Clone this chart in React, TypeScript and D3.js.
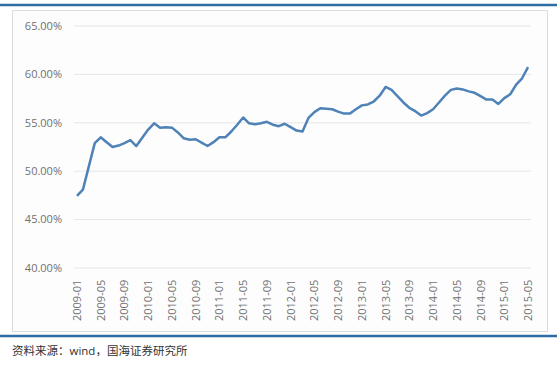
import React from "react";
import * as d3 from "d3";

const startYear = 2009;
const monthCount = 77;
const months: string[] = Array.from({ length: monthCount }, (_, i) => {
  const y = startYear + Math.floor(i / 12);
  const m = (i % 12) + 1;
  return `${y}-${m < 10 ? "0" + m : m}`;
});

const ratio: number[] = [
  47.45, 48.1, 50.5, 52.9, 53.5, 53.0, 52.5, 52.65, 52.9, 53.2, 52.6, 53.45,
  54.3, 54.95, 54.5, 54.55, 54.5, 54.0, 53.4, 53.25, 53.3, 52.95, 52.6, 53.0,
  53.5, 53.5, 54.1, 54.8, 55.55, 54.95, 54.85, 54.95, 55.1, 54.8, 54.65, 54.9,
  54.55, 54.2, 54.1, 55.5, 56.1, 56.5, 56.45, 56.4, 56.15, 55.95, 55.95, 56.4,
  56.8, 56.9, 57.2, 57.8, 58.7, 58.4, 57.75, 57.1, 56.55, 56.2, 55.75, 56.0,
  56.4, 57.1, 57.8, 58.4, 58.55, 58.45, 58.25, 58.1, 57.75, 57.4, 57.4, 56.95,
  57.55, 57.95, 58.95, 59.6, 60.75,
];

const yTicks: number[] = [40, 45, 50, 55, 60, 65];
const xTickLabels: string[] = months.filter((_, i) => i % 4 === 0);
const sourceText = "资料来源：wind，国海证券研究所";

export default function App() {
  const W = 560;
  const H = 374;
  const x = d3.scaleBand<string>().domain(months).range([74, 531]);
  const y = d3.scaleLinear().domain([40, 65]).range([268, 26]);
  const cx = (d: string) => (x(d) as number) + x.bandwidth() / 2;
  const line = d3
    .line<number>()
    .x((_, i) => cx(months[i]))
    .y((d) => y(d));
  const font = "'Open Sans', 'Noto Sans CJK SC', sans-serif";

  return (
    <svg
      width={W}
      height={H}
      style={{ position: "fixed", left: 0, top: 0, background: "#fff" }}
    >
      <rect x={0} y={0} width={W} height={H} fill="#ffffff" />
      <line x1={0} x2={557} y1={5} y2={5} stroke="#2e6ca4" strokeWidth={2.5} />
      <rect x={12.5} y={10.5} width={535} height={321} fill="#fdfdfd" stroke="#dcdcdc" strokeWidth={1} />
      {yTicks.map((t) => (
        <g key={t}>
          <line x1={74} x2={531} y1={y(t)} y2={y(t)} stroke="#e6e6e6" strokeWidth={1} />
          <text
            x={62}
            y={y(t)}
            dy="0.35em"
            textAnchor="end"
            fontFamily={font}
            fontSize={11}
            fill="#707070"
          >
            {t.toFixed(2) + "%"}
          </text>
        </g>
      ))}
      {xTickLabels.map((lab) => (
        <text
          key={lab}
          transform={`translate(${cx(lab) + 4},${321}) rotate(-90)`}
          textAnchor="start"
          fontFamily={font}
          fontSize={11}
          fill="#707070"
        >
          {lab}
        </text>
      ))}
      <path d={line(ratio) || ""} fill="none" stroke="#4f82b6" strokeWidth={2.5} strokeLinejoin="round" />
      <line x1={0} x2={557} y1={336} y2={336} stroke="#2e6ca4" strokeWidth={2.5} />
      <text x={12} y={355} fontFamily={font} fontSize={11.5} fill="#333">
        {sourceText}
      </text>
    </svg>
  );
}
